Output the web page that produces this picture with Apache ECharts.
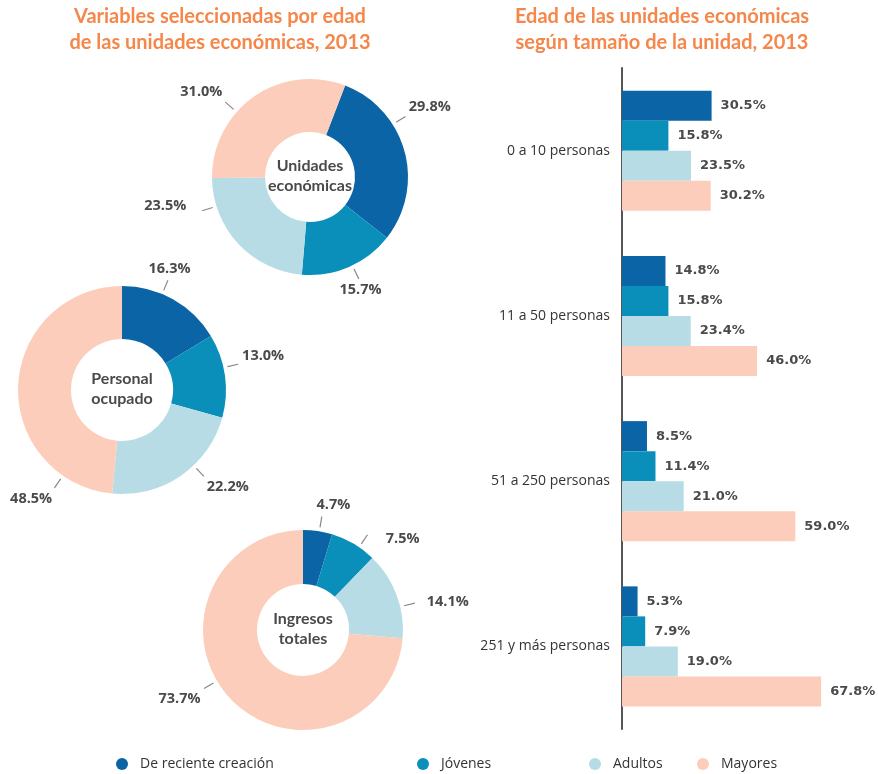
<!DOCTYPE html>
<html>
<head>
<meta charset="utf-8">
<script src="https://cdn.jsdelivr.net/npm/echarts@6/dist/echarts.min.js"></script>
<style>
  html, body { margin: 0; padding: 0; background: #fff; }
  #main { width: 878px; height: 774px; }
</style>
</head>
<body>
<div id="main"></div>
<script>
// grupos de edad
const grupos = ['De reciente creación', 'Jóvenes', 'Adultos', 'Mayores'];
const colores = ['#0b64a5', '#0a8fbb', '#b7dce6', '#fccdbb'];

// donas (porcentaje)
const unidades = [29.8, 15.7, 23.5, 31.0];
const personal = [16.3, 13.0, 22.2, 48.5];
const ingresos = [4.7, 7.5, 14.1, 73.7];

// barras por tamaño
const tamanos = ['0 a 10 personas', '11 a 50 personas', '51 a 250 personas', '251 y más personas'];
const reciente = [30.5, 14.8, 8.5, 5.3];
const jovenes = [15.8, 15.8, 11.4, 7.9];
const adultos = [23.5, 23.4, 21.0, 19.0];
const mayores = [30.2, 46.0, 59.0, 67.8];

const naranja = '#f5874a';
const gris = '#4a4a4a';

// etiquetas de las donas: ángulo (grados desde arriba, horario), alineación, desplazamiento del texto
const posUnidades = [[57.6, 'left', 'bottom'], [154.4, 'center', 'top'], [252.6, 'right', 'middle', -12, -6], [311.5, 'right', 'bottom']];
const posPersonal = [[22.7, 'center', 'bottom'], [77.5, 'left', 'bottom'], [136.5, 'left', 'top'], [214.6, 'right', 'top']];
const posIngresos = [[9.4, 'center', 'bottom', 11, 0], [34.1, 'left', 'middle', 16, 7], [76.5, 'left', 'middle', 8, 0], [239.4, 'right', 'middle', 0, 8]];

function dona(valores, centro, radio, inicio, pos) {
  const r = radio[1];
  const punto = (ang, d) => {
    const a = ang * Math.PI / 180;
    return [centro[0] + d * Math.sin(a), centro[1] - d * Math.cos(a)];
  };
  return {
    type: 'pie',
    center: centro,
    radius: radio,
    startAngle: inicio,
    color: colores,
    silent: true,
    label: {
      formatter: p => p.value.toFixed(1) + '%',
      color: gris,
      fontFamily: 'Open Sans',
      fontWeight: 'bold',
      fontSize: 14.5,
      overflow: 'none',
      bleedMargin: 0
    },
    labelLine: { length: 12, length2: 3, lineStyle: { color: '#888', width: 1.2 } },
    labelLayout: function (params) {
      const p = pos[params.dataIndex];
      const a = punto(p[0], r + 4);
      const b = punto(p[0], r + 15);
      const t = punto(p[0], r + 19);
      return {
        x: t[0] + (p[3] || 0),
        y: t[1] + (p[4] || 0),
        align: p[1],
        verticalAlign: p[2],
        labelLinePoints: [a, b, b]
      };
    },
    data: valores.map((v, i) => ({ name: grupos[i], value: v }))
  };
}

function barra(idx, valores) {
  return {
    type: 'bar',
    name: grupos[idx],
    barWidth: 30,
    barGap: '0%',
    itemStyle: { color: colores[idx] },
    label: {
      show: true,
      position: 'right',
      distance: 9,
      formatter: p => p.value.toFixed(1) + '%',
      color: gris,
      fontFamily: 'DejaVu Sans',
      fontWeight: 'bold',
      fontSize: 13
    },
    data: valores
  };
}

function leyenda(nombre, cx) {
  return {
    data: [nombre],
    left: cx - 6,
    top: 757,
    padding: 0,
    icon: 'circle',
    itemWidth: 12,
    itemHeight: 12,
    selectedMode: false,
    textStyle: { color: '#333', fontFamily: 'Open Sans', fontSize: 14, padding: [0, 0, 0, 7] }
  };
}

function texto(t, x, y, size, color, lh) {
  return {
    type: 'text',
    x: x,
    y: y,
    style: {
      text: t,
      textAlign: 'center',
      textVerticalAlign: 'middle',
      fill: color,
      font: 'bold ' + size + 'px Lato',
      lineHeight: lh
    }
  };
}

const chart = echarts.init(document.getElementById('main'));
chart.setOption({
  animation: false,
  legend: [
    leyenda(grupos[0], 122),
    leyenda(grupos[1], 423),
    leyenda(grupos[2], 595),
    leyenda(grupos[3], 703)
  ],
  grid: { left: 622, top: 68, width: 235, height: 661 },
  xAxis: { type: 'value', min: 0, max: 80, show: false },
  yAxis: {
    type: 'category',
    inverse: true,
    data: tamanos,
    axisLine: { lineStyle: { color: '#555', width: 2 } },
    axisTick: { length: 8, lineStyle: { color: '#555', width: 1.5 } },
    axisLabel: { color: '#333', fontFamily: 'Open Sans', fontSize: 14, margin: 12 }
  },
  graphic: [
    texto('Variables seleccionadas por edad\nde las unidades económicas, 2013', 220, 30, 20, naranja, 26),
    texto('Edad de las unidades económicas\nsegún tamaño de la unidad, 2013', 662, 30, 20, naranja, 26),
    texto('Unidades\neconómicas', 310, 176, 16, gris, 20),
    texto('Personal\nocupado', 122, 389, 16, gris, 20),
    texto('Ingresos\ntotales', 303, 629, 16, gris, 20)
  ],
  series: [
    dona(unidades, [310, 177], [45, 98], 69, posUnidades),
    dona(personal, [122, 390], [51, 104], 90, posPersonal),
    dona(ingresos, [303, 630], [46, 100], 90, posIngresos),
    barra(0, reciente),
    barra(1, jovenes),
    barra(2, adultos),
    barra(3, mayores)
  ]
});
</script>
</body>
</html>
